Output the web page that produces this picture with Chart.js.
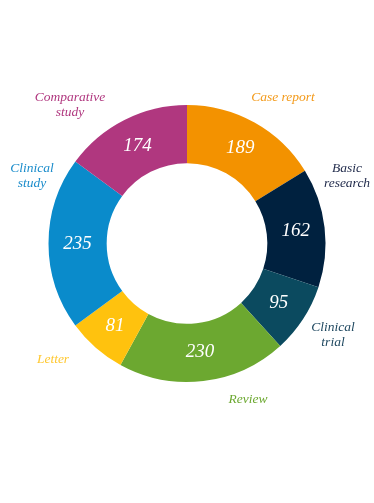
<!DOCTYPE html>
<html>
<head>
<meta charset="utf-8">
<script src="https://cdn.jsdelivr.net/npm/chart.js@4/dist/chart.umd.min.js"></script>
<style>
  html, body { margin: 0; padding: 0; background: #ffffff; }
  #wrap { width: 374px; height: 503px; position: relative; }
</style>
</head>
<body>
<div id="wrap"><canvas id="c" width="374" height="503"></canvas></div>
<script>
const categories = ["Case report", "Basic research", "Clinical trial", "Review", "Letter", "Clinical study", "Comparative study"];
const counts = [189, 162, 95, 230, 81, 235, 174];
const sliceColors = ["#F39200", "#00213F", "#0B4A5F", "#6CA830", "#FFC20E", "#0A8BCB", "#B0377F"];
const labelColors = ["#F39A1A", "#1E2849", "#1F4860", "#6CA830", "#FFC830", "#1A8CCB", "#B0377F"];
// label text lines and their anchor offsets from the donut centre (layout only)
const labelLines = [["Case report"], ["Basic", "research"], ["Clinical", "trial"], ["Review"], ["Letter"], ["Clinical", "study"], ["Comparative", "study"]];
const labelOffsets = [[96, -146], [160, -68], [146, 91], [61, 156], [-134, 116], [-155, -68], [-117, -139]];

const labelPlugin = {
  id: 'labels',
  afterDatasetsDraw(chart) {
    const ctx = chart.ctx;
    const meta = chart.getDatasetMeta(0);
    ctx.save();
    ctx.textAlign = 'center';
    ctx.textBaseline = 'middle';
    // values inside the slices
    ctx.font = 'italic 19px "Liberation Serif", serif';
    ctx.fillStyle = '#ffffff';
    meta.data.forEach((arc, i) => {
      const p = arc.tooltipPosition();
      ctx.fillText(String(counts[i]), p.x, p.y);
    });
    // category labels outside
    const cx = (chart.chartArea.left + chart.chartArea.right) / 2;
    const cy = (chart.chartArea.top + chart.chartArea.bottom) / 2;
    ctx.font = 'italic 13.5px "Liberation Serif", serif';
    labelLines.forEach((lines, i) => {
      ctx.fillStyle = labelColors[i];
      const [dx, dy] = labelOffsets[i];
      const lh = 15;
      const y0 = cy + dy - (lines.length - 1) * lh / 2;
      lines.forEach((t, k) => ctx.fillText(t, cx + dx, y0 + k * lh));
    });
    ctx.restore();
  }
};

new Chart(document.getElementById('c'), {
  type: 'doughnut',
  data: {
    labels: categories,
    datasets: [{
      data: counts,
      backgroundColor: sliceColors,
      borderWidth: 0
    }]
  },
  options: {
    responsive: false,
    animation: false,
    cutout: '58%',
    layout: { padding: { left: 48, right: 48, top: 105, bottom: 121 } },
    plugins: { legend: { display: false }, tooltip: { enabled: false } }
  },
  plugins: [labelPlugin]
});
</script>
</body>
</html>
